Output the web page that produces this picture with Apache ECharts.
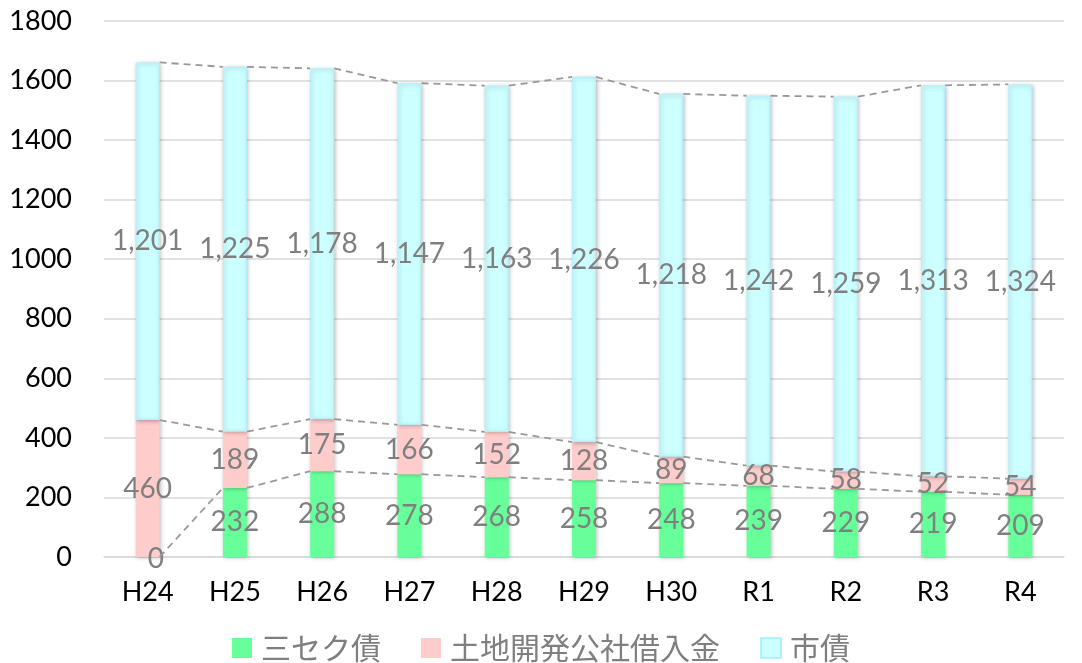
<!DOCTYPE html>
<html>
<head>
<meta charset="utf-8">
<script src="https://cdn.jsdelivr.net/npm/echarts@6/dist/echarts.min.js"></script>
<style>html,body{margin:0;padding:0;background:#fff}#c{width:1082px;height:663px}</style>
</head>
<body>
<div id="c"></div>
<script>
const categories = ['H24','H25','H26','H27','H28','H29','H30','R1','R2','R3','R4'];
const sansekuSai = [0,232,288,278,268,258,248,239,229,219,209];
const tochiKaihatsu = [460,189,175,166,152,128,89,68,58,52,54];
const shiSai = [1201,1225,1178,1147,1163,1226,1218,1242,1259,1313,1324];
const seriesNames = ['三セク債','土地開発公社借入金','市債'];
const yTicks = {min: 0, max: 1800, interval: 200};

const cum1 = sansekuSai.slice();
const cum2 = sansekuSai.map((v,i)=>v+tochiKaihatsu[i]);
const cum3 = cum2.map((v,i)=>v+shiSai[i]);
const lineData = [];
for (let i = 0; i < categories.length - 1; i++) {
  lineData.push([i, cum1[i], cum1[i+1], cum2[i], cum2[i+1], cum3[i], cum3[i+1]]);
}

const BAR_W = 24;
const gray = '#7f7f7f';
const numFont = 'Lato, "Noto Sans CJK JP", sans-serif';
const fmt = v => Number(v).toLocaleString('en-US');

const label = {
  show: true, position: 'inside', color: gray, fontSize: 28, fontFamily: numFont,
  formatter: p => fmt(p.value)
};
const shadow = {shadowBlur: 4, shadowColor: 'rgba(0,0,0,0.25)', shadowOffsetX: 1, shadowOffsetY: 1};

const chart = echarts.init(document.getElementById('c'));
chart.setOption({
  animation: false,
  textStyle: {fontFamily: numFont},
  grid: {left: 104, right: 18, top: 21, bottom: 106, containLabel: false},
  legend: {
    data: seriesNames, top: 633, left: 'center', itemWidth: 20, itemHeight: 20, itemGap: 40,
    icon: 'rect', padding: 0,
    textStyle: {color: gray, fontSize: 30, fontFamily: '"Noto Sans CJK JP", sans-serif', padding: [0,0,0,4]}
  },
  xAxis: {
    type: 'category', data: categories,
    axisLine: {show: true, lineStyle: {color: '#d9d9d9', width: 1.5}},
    axisTick: {show: false},
    axisLabel: {color: '#000', fontSize: 27, margin: 22, fontFamily: numFont}
  },
  yAxis: {
    type: 'value', min: yTicks.min, max: yTicks.max, interval: yTicks.interval,
    axisLine: {show: false}, axisTick: {show: false},
    axisLabel: {color: '#000', fontSize: 27, margin: 32, fontFamily: numFont, formatter: v => String(v)},
    splitLine: {lineStyle: {color: '#d9d9d9', width: 1.5}}
  },
  series: [
    {name: seriesNames[0], type: 'bar', stack: 's', data: sansekuSai, barWidth: BAR_W,
     itemStyle: Object.assign({color: '#66ff99'}, shadow),
     label: label,
     labelLayout: p => p.dataIndex === 0 ? {y: p.rect.y + 2, verticalAlign: 'middle'} : {}
    },
    {name: seriesNames[1], type: 'bar', stack: 's', data: tochiKaihatsu, barWidth: BAR_W,
     itemStyle: Object.assign({color: '#ffcccc'}, shadow), label: label},
    {name: seriesNames[2], type: 'bar', stack: 's', data: shiSai, barWidth: BAR_W,
     itemStyle: Object.assign({color: '#ccffff', borderColor: '#b3f0ff', borderWidth: 1}, shadow), label: label},
    {type: 'custom', data: lineData, silent: true, z: 5,
     encode: {x: 0, y: 1},
     renderItem: function(params, api) {
       const i = api.value(0);
       const children = [];
       for (let k = 0; k < 3; k++) {
         const a = api.coord([i, api.value(1 + 2*k)]);
         const b = api.coord([i + 1, api.value(2 + 2*k)]);
         children.push({
           type: 'line',
           shape: {x1: a[0] + BAR_W/2, y1: a[1], x2: b[0] - BAR_W/2, y2: b[1]},
           style: {stroke: '#999999', lineWidth: 1.8, lineDash: [7, 5]}
         });
       }
       return {type: 'group', children: children};
     }
    }
  ]
});
</script>
</body>
</html>
